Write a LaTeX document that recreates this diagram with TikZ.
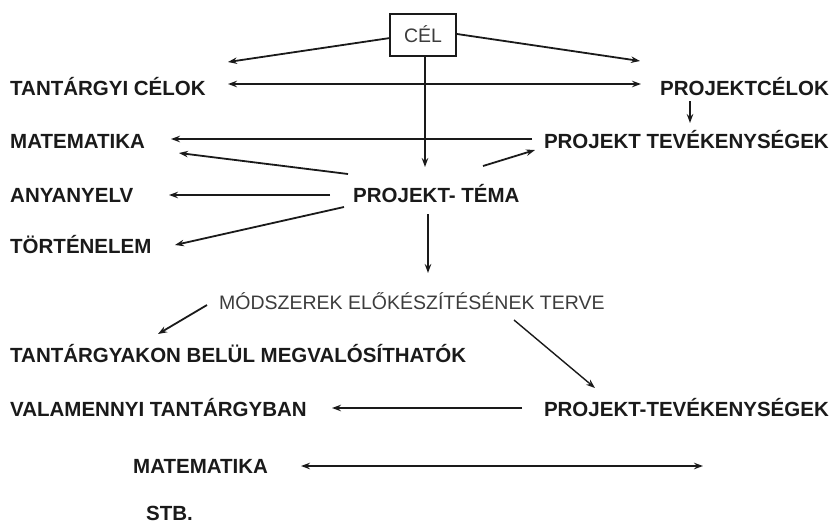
\documentclass[tikz,border=0pt]{standalone}
\usepackage{fontspec}
\setmainfont{Liberation Sans}
\usetikzlibrary{arrows.meta}
\definecolor{ink}{HTML}{1A1A1A}
\begin{document}
\begin{tikzpicture}[x=1pt,y=-1pt,
  lbl/.style={inner sep=0pt,text height=14.5pt,text depth=0pt,font=\fontsize{20.5}{21}\selectfont\bfseries,text=ink},
  plain/.style={inner sep=0pt,text height=14pt,text depth=0pt,font=\fontsize{19.5}{20}\selectfont,text=ink!85},
  arr/.style={-{Stealth[length=9pt,width=6.5pt]},line width=1.8pt,draw=ink},
  dbl/.style={{Stealth[length=9pt,width=6.5pt]}-{Stealth[length=9pt,width=6.5pt]},line width=1.8pt,draw=ink}]
\useasboundingbox (0,0) rectangle (834,523);
\node[plain,draw=ink,line width=2pt,minimum width=66pt,minimum height=42pt] (cel) at (423,35) {CÉL};
\node[lbl,anchor=west] (tc) at (10,88) {TANTÁRGYI CÉLOK};
\node[lbl,anchor=east] (pc) at (829,88) {PROJEKTCÉLOK};
\node[lbl,anchor=west] (mat1) at (10,141) {MATEMATIKA};
\node[lbl,anchor=east] (pt) at (829,141) {PROJEKT TEVÉKENYSÉGEK};
\node[lbl,anchor=west] (any) at (10,195) {ANYANYELV};
\node[lbl,anchor=west] (tema) at (353,195) {PROJEKT- TÉMA};
\node[lbl,anchor=west] (tort) at (10,246) {TÖRTÉNELEM};
\node[plain,anchor=west] (mod) at (219,302) {MÓDSZEREK ELŐKÉSZÍTÉSÉNEK TERVE};
\node[lbl,anchor=west] (tant) at (10,355) {TANTÁRGYAKON BELÜL MEGVALÓSÍTHATÓK};
\node[lbl,anchor=west] (val) at (10,409) {VALAMENNYI TANTÁRGYBAN};
\node[lbl,anchor=east] (pt2) at (829,409) {PROJEKT-TEVÉKENYSÉGEK};
\node[lbl,anchor=west] (mat2) at (133,466) {MATEMATIKA};
\node[lbl,anchor=west] (stb) at (146,513) {STB.};
% connector ends
\coordinate (celL) at (390,38);
\coordinate (celR) at (457,34);
\coordinate (tcend) at (228,62);
\coordinate (pcend) at (640,61);
\coordinate (dl) at (228,84);
\coordinate (dr) at (641,84);
\coordinate (celB) at (425,57);
\coordinate (temain) at (425,167);
\coordinate (pcB) at (690,101);
\coordinate (ptin) at (690,123);
\coordinate (ptW) at (532,139);
\coordinate (matin) at (171,139);
\coordinate (temaNW) at (348,174);
\coordinate (matdiag) at (179,153);
\coordinate (temaNE) at (483,166);
\coordinate (ptdiag) at (535,150);
\coordinate (temaW) at (330,195);
\coordinate (anyin) at (169,195);
\coordinate (temaSW) at (344,207);
\coordinate (tortin) at (175,245);
\coordinate (temaS) at (428,214);
\coordinate (modin) at (428,273);
\coordinate (modW) at (207,305);
\coordinate (tantin) at (158,334);
\coordinate (modSE) at (514,320);
\coordinate (pt2in) at (595,388);
\coordinate (pt2W) at (522,408);
\coordinate (valin) at (332,408);
\coordinate (m2l) at (301,466);
\coordinate (m2r) at (703,466);
% connectors
\draw[arr] (celL) -- (tcend);
\draw[arr] (celR) -- (pcend);
\draw[dbl] (dl) -- (dr);
\draw[arr] (celB) -- (temain);
\draw[arr] (pcB) -- (ptin);
\draw[arr] (ptW) -- (matin);
\draw[arr] (temaNW) -- (matdiag);
\draw[arr] (temaNE) -- (ptdiag);
\draw[arr] (temaW) -- (anyin);
\draw[arr] (temaSW) -- (tortin);
\draw[arr] (temaS) -- (modin);
\draw[arr] (modW) -- (tantin);
\draw[arr,line width=1.4pt] (modSE) -- (pt2in);
\draw[arr] (pt2W) -- (valin);
\draw[dbl] (m2l) -- (m2r);
\end{tikzpicture}
\end{document}
